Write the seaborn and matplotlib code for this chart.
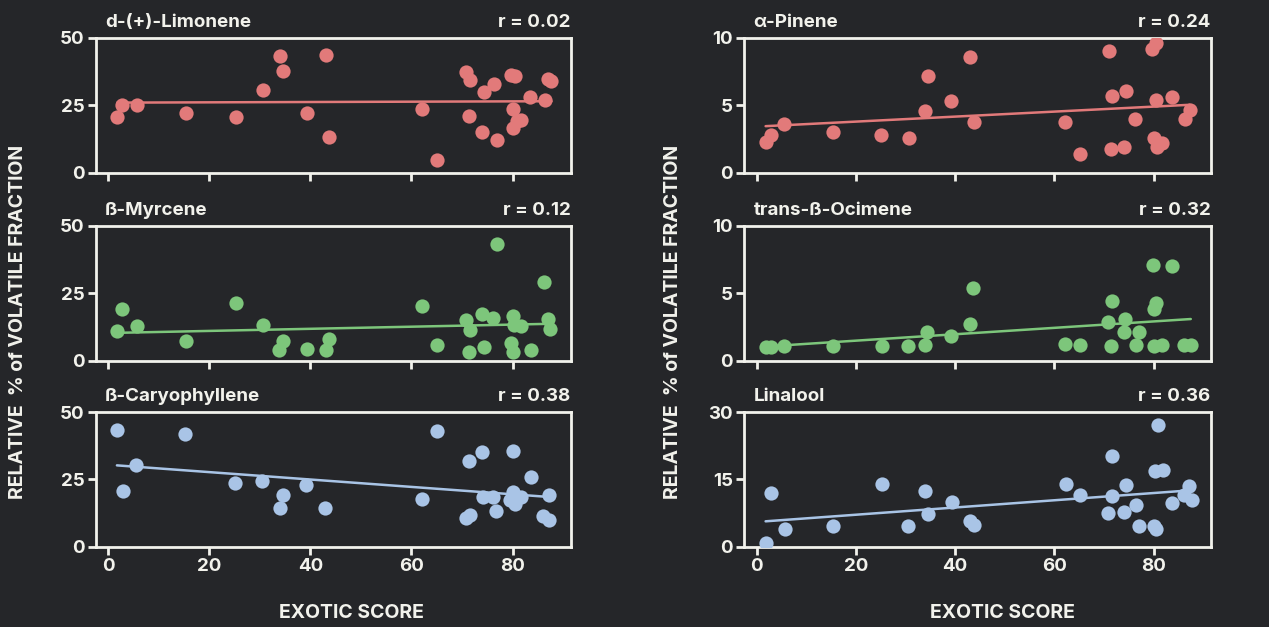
import matplotlib
matplotlib.use("Agg")
import matplotlib.pyplot as plt
import seaborn as sns

# Data (exotic score vs relative % of volatile fraction)
limonene_x = [1.8, 2.8, 5.6, 15.3, 25.2, 30.6, 33.9, 34.5, 39.3, 43.0, 43.6, 62.0, 65.1, 70.8,
              71.5, 71.3, 74.0, 74.3, 76.3, 77.0, 79.7, 80.5, 80.0, 80.0, 80.9, 81.7, 83.5, 86.5,
              87.0, 87.7]
limonene_y = [20.7, 25.1, 25.2, 22.2, 20.7, 30.9, 43.3, 37.9, 22.2, 43.7, 13.2, 23.6, 4.7, 37.3,
              34.4, 21.0, 15.0, 30.1, 32.9, 12.4, 36.4, 35.9, 23.6, 16.7, 19.4, 19.6, 28.0, 27.1,
              34.8, 34.0]

pinene_x = [1.8, 2.8, 5.6, 15.3, 25.1, 30.7, 34.5, 34.0, 39.2, 43.0, 43.8, 62.1, 65.2, 71.1,
            71.7, 71.4, 74.1, 74.4, 76.3, 79.7, 80.4, 80.5, 80.0, 80.6, 81.7, 83.8, 86.3, 87.3]
pinene_y = [2.3, 2.8, 3.6, 3.0, 2.8, 2.6, 7.2, 4.6, 5.3, 8.6, 3.8, 3.8, 1.4, 9.0,
            5.7, 1.8, 1.9, 6.1, 4.0, 9.2, 9.6, 5.4, 2.6, 1.9, 2.2, 5.6, 4.0, 4.7]

myrcene_x = [1.8, 2.8, 5.6, 15.3, 25.2, 30.7, 34.5, 33.8, 39.3, 43.6, 43.0, 62.0, 65.0, 70.8,
             71.5, 71.4, 74.0, 74.3, 76.2, 77.0, 80.0, 80.2, 81.6, 79.6, 80.1, 83.6, 86.3, 87.1,
             87.4]
myrcene_y = [11.1, 19.1, 12.8, 7.3, 21.4, 13.3, 7.3, 4.1, 4.2, 8.0, 4.0, 20.1, 5.9, 15.2,
             11.2, 3.1, 17.3, 5.1, 15.7, 43.2, 16.7, 13.1, 12.8, 6.7, 3.1, 4.0, 29.1, 15.6,
             11.9]

ocimene_x = [1.8, 2.9, 5.6, 15.3, 25.3, 30.5, 34.0, 34.4, 39.1, 43.0, 43.7, 62.2, 65.2, 70.9,
             71.7, 71.5, 74.2, 74.1, 76.4, 77.1, 79.8, 80.4, 80.1, 80.1, 81.7, 83.8, 86.2, 87.5]
ocimene_y = [1.04, 1.04, 1.1, 1.1, 1.07, 1.07, 1.2, 2.1, 1.8, 2.7, 5.4, 1.24, 1.14, 2.9,
             4.4, 1.1, 3.1, 2.1, 1.2, 2.1, 7.1, 4.3, 3.8, 1.1, 1.17, 7.0, 1.2, 1.2]

caryophyllene_x = [1.7, 2.9, 5.5, 15.2, 25.1, 30.4, 34.5, 33.9, 39.1, 42.9, 62.0, 65.1, 71.4,
                   70.8, 71.6, 74.0, 74.2, 76.2, 76.8, 80.1, 80.0, 79.5, 80.5, 81.7, 83.6, 86.0,
                   87.2, 87.3]
caryophyllene_y = [43.4, 20.7, 30.3, 42.0, 23.8, 24.5, 19.4, 14.5, 23.1, 14.5, 17.8, 43.1, 31.7,
                   10.6, 12.0, 35.1, 18.7, 18.6, 13.2, 35.6, 20.4, 17.3, 16.0, 18.6, 26.1, 11.3,
                   10.1, 19.1]

linalool_x = [1.8, 2.8, 5.7, 15.3, 25.2, 30.5, 34.0, 34.6, 39.4, 43.0, 43.9, 62.3, 65.1, 70.9,
              71.6, 71.6, 74.0, 74.5, 76.4, 77.0, 80.0, 80.4, 80.2, 80.9, 81.9, 83.8, 86.2, 87.2,
              87.7]
linalool_y = [0.97, 12.1, 4.0, 4.7, 13.9, 4.6, 12.4, 7.4, 9.9, 5.7, 4.9, 13.9, 11.5, 7.5,
              20.2, 11.3, 7.7, 13.7, 9.3, 4.6, 4.6, 3.9, 16.9, 27.2, 17.2, 9.7, 11.6, 13.5,
              10.5]

compounds = ["d-(+)-Limonene", "\u03b1-Pinene", "\u00df-Myrcene", "trans-\u00df-Ocimene",
             "\u00df-Caryophyllene", "Linalool"]
r_values = ["0.02", "0.24", "0.12", "0.32", "0.38", "0.36"]
y_max = [50, 10, 50, 10, 50, 30]
y_ticks = [[0, 25, 50], [0, 5, 10], [0, 25, 50], [0, 5, 10], [0, 25, 50], [0, 15, 30]]
x_ticks = [0, 20, 40, 60, 80]

xs = [limonene_x, pinene_x, myrcene_x, ocimene_x, caryophyllene_x, linalool_x]
ys = [limonene_y, pinene_y, myrcene_y, ocimene_y, caryophyllene_y, linalool_y]

red = "#e27a7a"
green = "#7dc67b"
blue = "#a9c4e6"
colors = [red, red, green, green, blue, blue]

bg = "#252629"
fg = "#f2f2ec"

sns.set_theme(style="dark")
plt.rcParams["font.family"] = ["Inter", "DejaVu Sans"]
plt.rcParams["font.weight"] = "bold"

fig = plt.figure(figsize=(12.69, 6.27), dpi=100, facecolor=bg)

lefts = [0.0754, 0.5865]
widths = [0.3743, 0.3675]
bottoms = [0.7241, 0.4247, 0.1276]
height = 0.2153

for i in range(6):
    row, col = divmod(i, 2)
    ax = fig.add_axes([lefts[col], bottoms[row], widths[col], height])
    ax.set_facecolor(bg)
    sns.regplot(x=xs[i], y=ys[i], ax=ax, ci=None, color=colors[i],
                scatter_kws={"s": 105, "alpha": 1, "linewidths": 0, "zorder": 3},
                line_kws={"lw": 1.8, "zorder": 2})
    ax.set_xlim(-2.5, 91.5)
    ax.set_ylim(0, y_max[i])
    ax.set_xticks(x_ticks)
    ax.set_yticks(y_ticks[i])
    ax.set_xlabel("")
    ax.set_ylabel("")
    for s in ax.spines.values():
        s.set_visible(True)
        s.set_color(fg)
        s.set_linewidth(2)
    ax.tick_params(axis="both", colors=fg, labelcolor=fg, width=2, length=6,
                   labelsize=13.5, direction="out", bottom=True, left=True, pad=2)
    if row < 2:
        ax.set_xticklabels([])
    for lab in ax.get_xticklabels() + ax.get_yticklabels():
        lab.set_fontweight("bold")
    ax.grid(False)
    ax.text(0.02, 1.05, compounds[i], transform=ax.transAxes, color=fg, fontsize=13.5,
            fontweight="bold", ha="left", va="bottom")
    ax.text(1.0, 1.05, "r = " + r_values[i], transform=ax.transAxes, color=fg, fontsize=13.5,
            fontweight="bold", ha="right", va="bottom")

for xl, xc in [(0.014, 0.277), (0.530, 0.790)]:
    fig.text(xl, 0.486, "RELATIVE  % of VOLATILE FRACTION", rotation=90, color=fg,
             fontsize=14, fontweight="bold", ha="center", va="center")
    fig.text(xc, 0.022, "EXOTIC SCORE", color=fg, fontsize=14, fontweight="bold",
             ha="center", va="center")

fig.savefig("out.png", dpi=100, facecolor=bg)
